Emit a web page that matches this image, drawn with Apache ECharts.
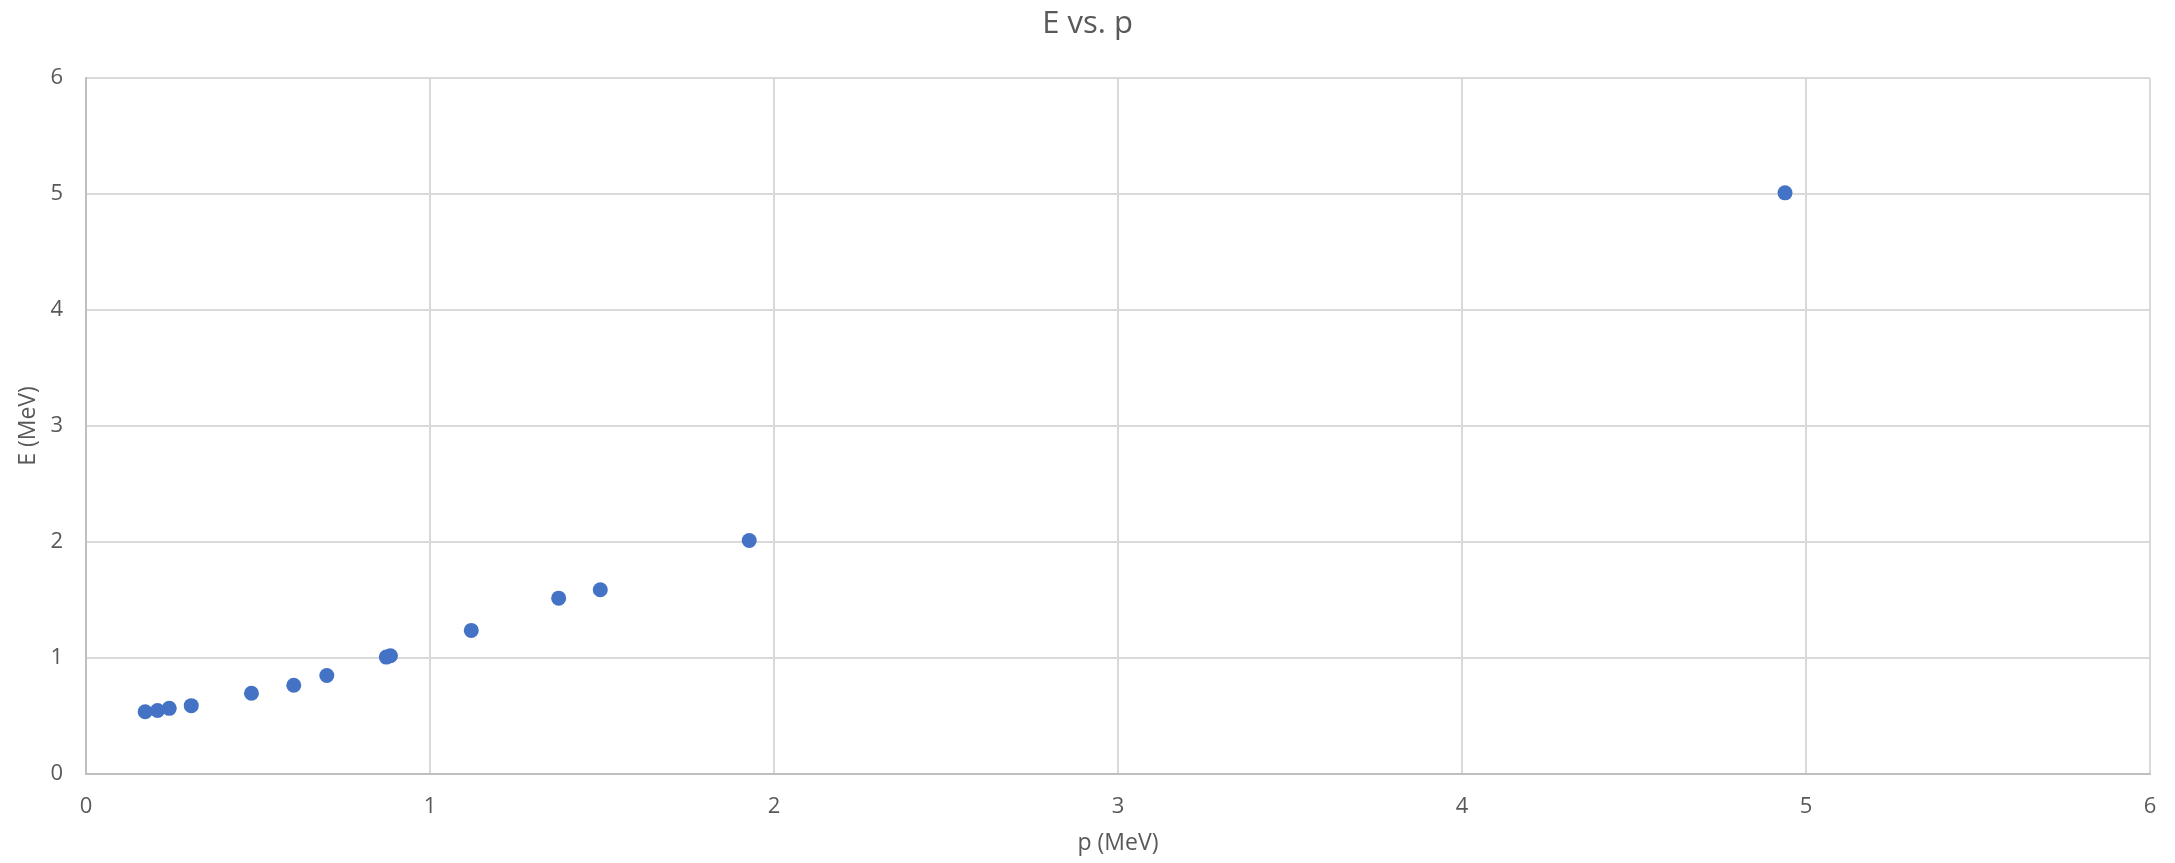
<!DOCTYPE html>
<html>
<head>
<meta charset="utf-8">
<script src="https://cdn.jsdelivr.net/npm/echarts@6/dist/echarts.min.js"></script>
<style>html,body{margin:0;padding:0;background:#fff}#c{width:2175px;height:863px}</style>
</head>
<body>
<div id="c"></div>
<script>
var titleText = 'E vs. p';
var xName = 'p (MeV)';
var yName = 'E (MeV)';
var pValues = [0.172, 0.208, 0.242, 0.306, 0.481, 0.604, 0.700, 0.873, 0.885, 1.120, 1.374, 1.495, 1.928, 4.939];
var eValues = [0.537, 0.547, 0.566, 0.589, 0.696, 0.765, 0.849, 1.008, 1.020, 1.238, 1.516, 1.588, 2.013, 5.010];

var points = pValues.map(function (p, i) { return [p, eValues[i]]; });
var font = 'Open Sans';
var textColor = '#595959';

var chart = echarts.init(document.getElementById('c'));
chart.setOption({
  animation: false,
  backgroundColor: '#ffffff',
  title: {
    text: titleText,
    left: 'center',
    top: 4,
    textStyle: { fontFamily: font, fontSize: 31, fontWeight: 'normal', color: textColor }
  },
  grid: { left: 86, right: 25, top: 78, bottom: 89, containLabel: false },
  xAxis: {
    type: 'value',
    min: 0, max: 6, interval: 1,
    name: xName,
    nameLocation: 'middle',
    nameGap: 58,
    nameTextStyle: { fontFamily: font, fontSize: 23, color: textColor },
    axisLine: { show: true, lineStyle: { color: '#bfbfbf', width: 2 } },
    axisTick: { show: false },
    axisLabel: { fontFamily: font, fontSize: 22, color: textColor, margin: 22 },
    splitLine: { show: true, lineStyle: { color: '#d9d9d9', width: 2 } }
  },
  yAxis: {
    type: 'value',
    min: 0, max: 6, interval: 1,
    name: yName,
    nameLocation: 'middle',
    nameGap: 43,
    nameRotate: 90,
    nameTextStyle: { fontFamily: font, fontSize: 23, color: textColor },
    axisLine: { show: true, lineStyle: { color: '#bfbfbf', width: 2 } },
    axisTick: { show: false },
    axisLabel: { fontFamily: font, fontSize: 22, color: textColor, margin: 23 },
    splitLine: { show: true, lineStyle: { color: '#d9d9d9', width: 2 } }
  },
  series: [{
    type: 'scatter',
    data: points,
    symbol: 'circle',
    symbolSize: 15,
    itemStyle: { color: '#4472C4', opacity: 1 }
  }]
});
</script>
</body>
</html>
